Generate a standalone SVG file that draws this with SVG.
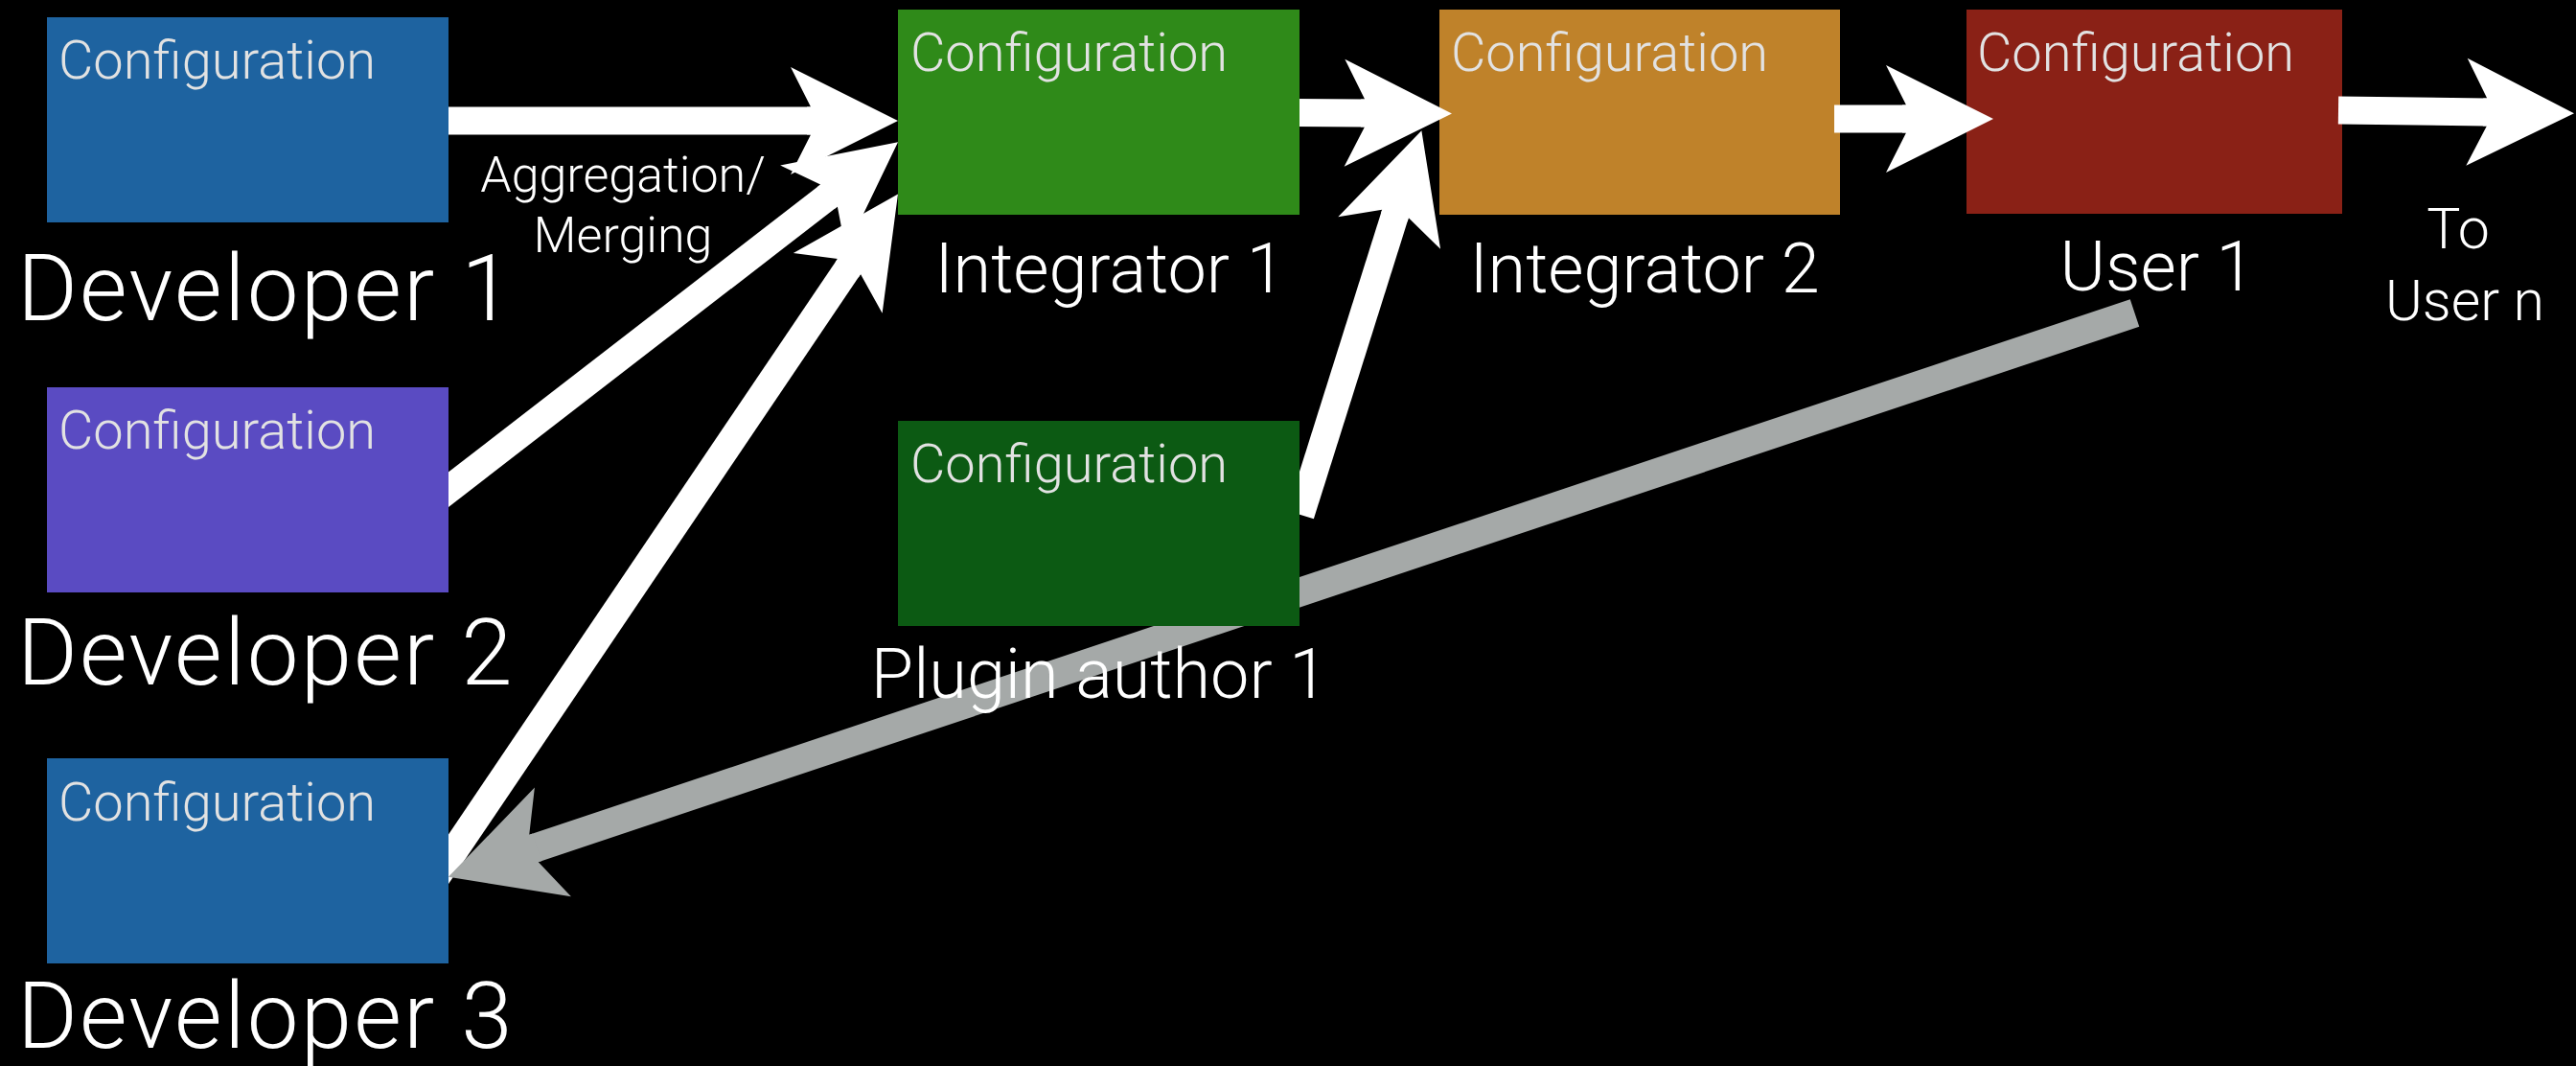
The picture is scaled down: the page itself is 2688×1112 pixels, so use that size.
<svg xmlns="http://www.w3.org/2000/svg" width="2688" height="1112" viewBox="0 0 2688 1112">
<style>
  .cfg{font-family:Roboto,"Liberation Sans",Arial,sans-serif;font-weight:300;font-size:56px;fill:#e2e2e2}
  .lbl{font-family:Roboto,"Liberation Sans",Arial,sans-serif;font-weight:300;fill:#ffffff}
  .big{font-size:96px;letter-spacing:2.2px}
  .mid{font-size:72px}
  .sm{font-size:59px}
  .agg{font-size:52px}
  .wire{stroke:#ffffff;stroke-width:29;fill:none;marker-end:url(#wh)}
  .back{stroke:#a5a9a8;stroke-width:30;fill:none;marker-end:url(#gh)}
</style>
<defs>
  <marker id="wh" markerUnits="userSpaceOnUse" viewBox="-30 -60 130 120" markerWidth="130" markerHeight="120" refX="0" refY="0" orient="auto" overflow="visible">
    <path d="M91,0 L-21,-56 L0,-14.5 L-4,-14.5 L-4,14.5 L0,14.5 L-21,56 Z" fill="#ffffff"/>
  </marker>
  <marker id="gh" markerUnits="userSpaceOnUse" viewBox="-30 -64 130 128" markerWidth="130" markerHeight="128" refX="0" refY="0" orient="auto" overflow="visible">
    <path d="M94,0 L-21,-60 L0,-15 L-4,-15 L-4,15 L0,15 L-21,60 Z" fill="#a5a9a8"/>
  </marker>
</defs>
<rect x="0" y="0" width="2688" height="1112" fill="#000000"/>

<g id="integrator2">
  <rect x="1502" y="10" width="418" height="214" fill="#bf822a"/>
  <text class="cfg" x="1514" y="74">Configuration</text>
  <text class="lbl mid" x="1716" y="305" text-anchor="middle">Integrator 2</text>
</g>
<g id="user1">
  <rect x="2052" y="10" width="392" height="213" fill="#8a2116"/>
  <text class="cfg" x="2063" y="74">Configuration</text>
  <text class="lbl mid" x="2251" y="303" text-anchor="middle">User 1</text>
</g>

<g id="connectors">
  <line class="wire" x1="468" y1="126" x2="846" y2="126"/>
  <line class="wire" x1="452" y1="523" x2="865" y2="204"/>
  <line class="wire" x1="454" y1="917" x2="886" y2="278"/>
  <line class="wire" x1="1350" y1="117.5" x2="1424" y2="118"/>
  <line class="wire" x1="1357" y1="537" x2="1456" y2="223"/>
  <line class="wire" x1="1914" y1="124" x2="1989" y2="124"/>
  <line class="wire" x1="2440" y1="115" x2="2595" y2="117"/>
  <line class="back" x1="2227.5" y1="326.5" x2="557" y2="885"/>
  <text class="lbl agg" x="650" y="200" text-anchor="middle">Aggregation/</text>
  <text class="lbl agg" x="650" y="263" text-anchor="middle">Merging</text>
  <text class="lbl sm" x="2565" y="259" text-anchor="middle">To</text>
  <text class="lbl sm" x="2572" y="334" text-anchor="middle">User n</text>
</g>

<g id="developer1">
  <rect x="49" y="18" width="419" height="214" fill="#1e63a0"/>
  <text class="cfg" x="61" y="82">Configuration</text>
  <text class="lbl big" x="18" y="334">Developer 1</text>
</g>
<g id="developer2">
  <rect x="49" y="404" width="419" height="214" fill="#5a4bc2"/>
  <text class="cfg" x="61" y="468">Configuration</text>
  <text class="lbl big" x="18" y="714">Developer 2</text>
</g>
<g id="developer3">
  <rect x="49" y="791" width="419" height="214" fill="#1e63a0"/>
  <text class="cfg" x="61" y="856">Configuration</text>
  <text class="lbl big" x="18" y="1093">Developer 3</text>
</g>
<g id="integrator1">
  <rect x="937" y="10" width="419" height="214" fill="#2f8a19"/>
  <text class="cfg" x="950" y="74">Configuration</text>
  <text class="lbl mid" x="1158" y="305" text-anchor="middle">Integrator 1</text>
</g>
<g id="plugin1">
  <rect x="937" y="439" width="419" height="214" fill="#0c5a13"/>
  <text class="cfg" x="950" y="503">Configuration</text>
  <text class="lbl mid" x="1147" y="728" text-anchor="middle">Plugin author 1</text>
</g>
</svg>
